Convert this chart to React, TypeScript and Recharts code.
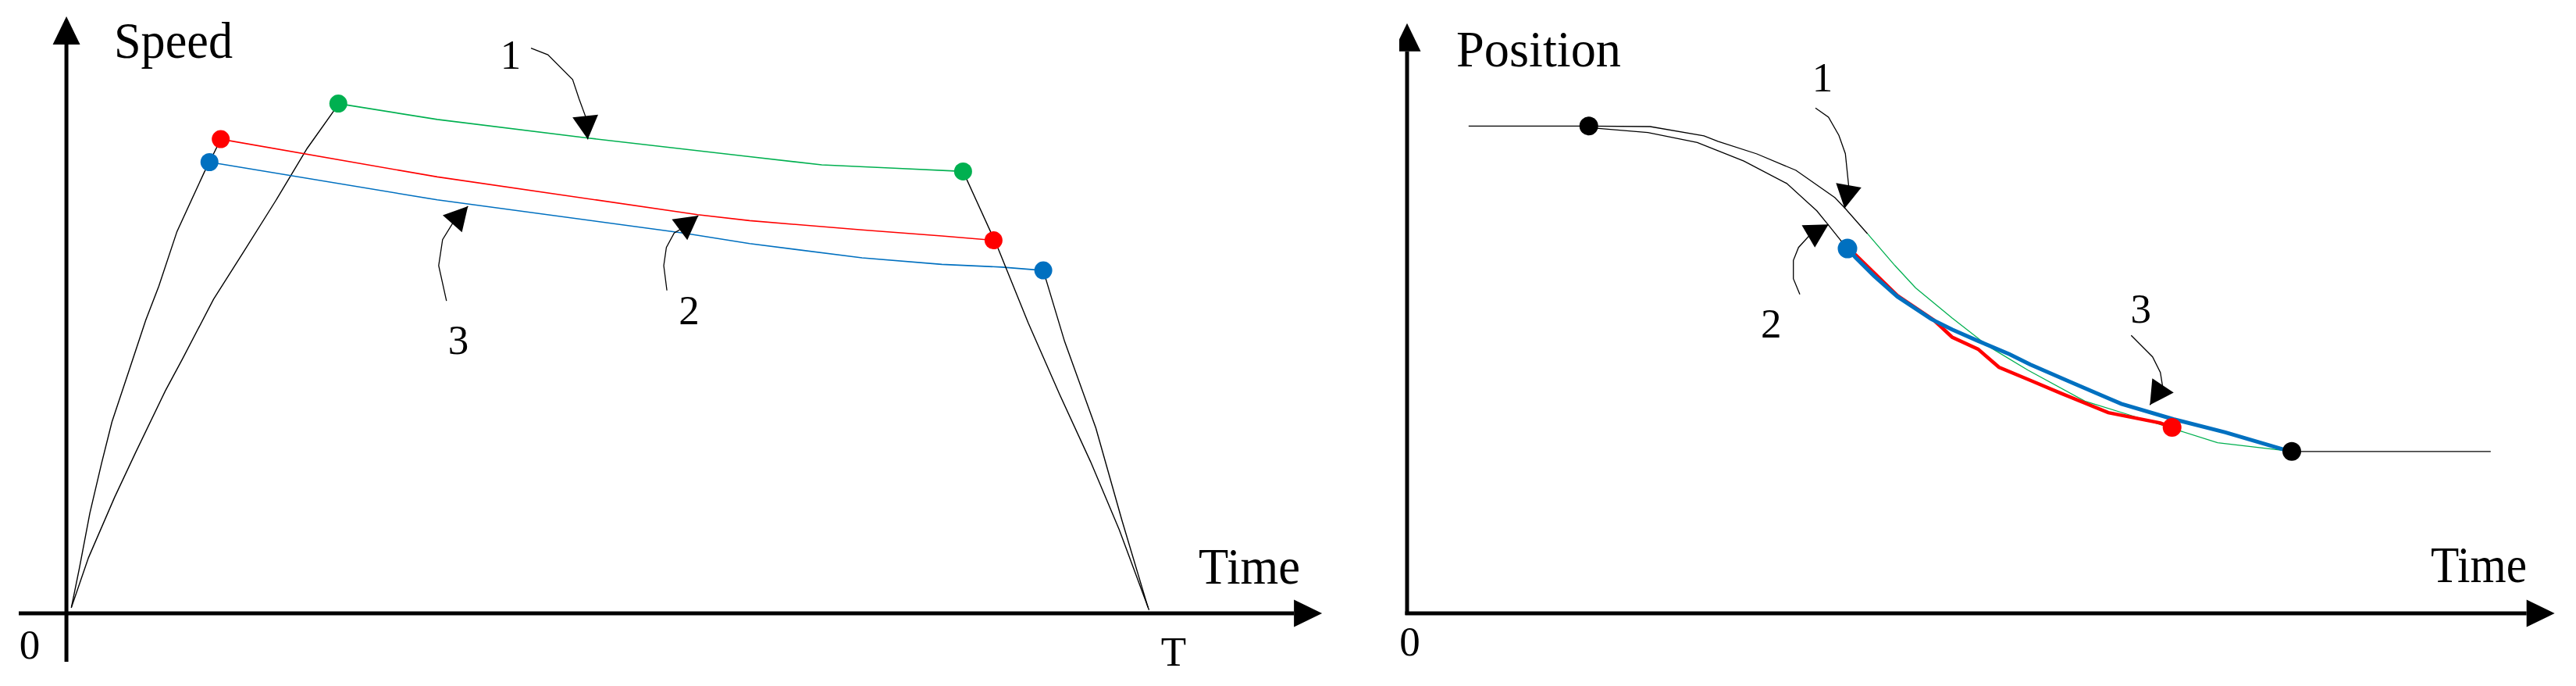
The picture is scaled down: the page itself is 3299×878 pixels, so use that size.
import React from "react"
import { ComposedChart, Line, Scatter, XAxis, YAxis, ReferenceDot } from "recharts"

const GREEN = "#00B050"
const RED = "#FF0000"
const BLUE = "#0070C0"
const FONT = "'Liberation Serif', 'Times New Roman', serif"

type Pt = { x: number; y: number }
const toPts = (rows: number[][]): Pt[] => rows.map(([x, y]) => ({ x, y }))

// ---- Speed chart (left): x in % of T, y in speed units
const speedGreen = toPts([[25.09, 93.2], [34.22, 90.3], [48.15, 86.9], [63.04, 83.5], [69.7, 82.0], [76.37, 81.4], [82.74, 80.8]])
const speedRed = toPts([[14.24, 86.7], [34.22, 79.8], [58.24, 72.9], [63.04, 71.8], [73.42, 70.1], [80.78, 69.0], [85.55, 68.2]])
const speedBlue = toPts([[13.2, 82.5], [34.22, 75.6], [57.04, 69.5], [63.04, 67.6], [73.42, 65.0], [80.78, 63.8], [86.3, 63.3], [90.14, 62.7]])

const rampUpBlue = toPts([[0.45, 1.0], [1.2, 8.3], [2.16, 18.3], [3.24, 27.4], [4.2, 35.0], [5.88, 45.0], [7.32, 53.6], [8.52, 59.8], [10.2, 69.8], [12.73, 80.7], [13.2, 82.5], [14.24, 86.7]])
const rampUpGreen = toPts([[0.48, 1.2], [2.04, 10.2], [4.44, 21.2], [6.36, 29.3], [9.13, 40.7], [10.68, 46.4], [13.57, 57.4], [16.45, 66.4], [19.33, 75.5], [22.21, 85.0], [24.61, 91.7], [25.09, 93.2]])
const rampDownGreen = toPts([[82.74, 80.8], [85.87, 67.2], [88.75, 53.1], [91.63, 40.1], [94.51, 27.7], [97.15, 15.3], [99.9, 0.6]])
const rampDownBlue = toPts([[90.14, 62.7], [92.11, 49.7], [94.99, 33.9], [97.4, 17.0], [99.8, 1.1]])

const speedGreenDots = toPts([[25.09, 93.2], [82.74, 80.8]])
const speedRedDots = toPts([[14.24, 86.7], [85.55, 68.2]])
const speedBlueDots = toPts([[13.2, 82.5], [90.14, 62.7]])

const speedLeader1 = toPts([[42.87, 103.33], [44.43, 102.14], [46.71, 97.61], [47.31, 94.04], [47.88, 90.96], [48.11, 86.67]])
const speedLeader2 = toPts([[55.41, 59.04], [55.12, 63.57], [55.36, 66.9], [56.08, 69.53], [56.56, 70.11], [58.31, 72.71]])
const speedLeader3 = toPts([[35.07, 57.14], [34.35, 63.57], [34.71, 68.33], [35.61, 71.23], [37.05, 74.43]])

const speedXAxis = toPts([[-4.4, 0], [113.27, 0]])
const speedYAxis = toPts([[0, -8.86], [0, 104]])

// ---- Position chart (right)
const posFlatStart = toPts([[7.88, 89.1], [23.27, 89.1]])
const posFlatEnd = toPts([[113.3, 29.6], [138.78, 29.6]])
const posUpperBlack = toPts([[23.27, 89.1], [31.13, 89.0], [38.02, 87.3], [39.8, 86.3], [44.8, 84.0], [49.8, 81.0], [54.8, 76.0], [56.13, 74.0], [58.97, 69.4]])
const posGreen = toPts([[58.97, 69.4], [62.47, 63.6], [65.13, 59.5], [69.8, 54.0], [74.47, 48.8], [79.47, 44.5], [86.8, 38.8], [93.13, 36.0], [96.47, 34.5], [103.8, 31.2], [112.13, 29.8], [113.3, 29.6]])
const posLowerBlack = toPts([[23.27, 89.1], [24.24, 88.7], [30.84, 87.9], [37.16, 86.1], [39.8, 84.6], [43.13, 82.7], [48.63, 78.6], [52.47, 73.6], [54.13, 70.7], [55.47, 68.3], [56.4, 66.7]])
const posBlue = toPts([[56.4, 66.7], [57.47, 65.0], [59.8, 61.7], [62.8, 57.9], [67.13, 53.8], [69.8, 51.9], [73.13, 49.8], [77.13, 47.4], [79.8, 45.5], [84.8, 42.4], [91.47, 38.3], [98.13, 35.5], [104.8, 33.1], [113.13, 29.6]])
const posRed = toPts([[56.4, 66.7], [57.47, 65.5], [62.8, 58.1], [67.47, 53.6], [69.8, 50.5], [73.13, 48.3], [75.8, 45.0], [79.8, 42.6], [83.8, 40.2], [89.8, 36.7], [96.47, 34.8], [97.97, 34.0]])

const posBlackDots = toPts([[23.27, 89.1], [113.3, 29.6]])
const posRedDots = toPts([[97.97, 34.0]])
const posBlueDots = toPts([[56.4, 66.7]])

const posLeader1 = toPts([[52.3, 92.39], [53.97, 90.71], [55.3, 87.39], [56.13, 84.04], [56.55, 78.21], [56.03, 74.04]])
const posLeader2 = toPts([[50.3, 58.33], [49.47, 61.19], [49.47, 64.53], [50.13, 66.9], [51.47, 69.0], [53.97, 71.1]])
const posLeader3 = toPts([[92.73, 50.81], [95.47, 46.9], [96.47, 44.04], [96.75, 41.54], [95.13, 38.1]])

const posXAxis = toPts([[-0.25, 0], [143.37, 0]])
const posYAxis = toPts([[0, -0.3], [0, 102.76]])

// triangle at the last point of a line; forward = tip sticks out past the last point
function arrowDot(count: number, len: number, half: number, forward: boolean) {
  let prev: [number, number] = [0, 0]
  return (props: any) => {
    const { cx, cy, index } = props
    if (index < count - 1) {
      prev = [cx, cy]
      return <g key={`a${index}`} />
    }
    const list = props.points
    const [px, py] = list && list.length > 1 ? [list[list.length - 2].x, list[list.length - 2].y] : prev
    const d = Math.hypot(cx - px, cy - py) || 1
    const ux = (cx - px) / d
    const uy = (cy - py) / d
    const tip = forward ? [cx + ux * len, cy + uy * len] : [cx, cy]
    const base = forward ? [cx, cy] : [cx - ux * len, cy - uy * len]
    const nx = -uy * half
    const ny = ux * half
    const p = `${tip[0]},${tip[1]} ${base[0] + nx},${base[1] + ny} ${base[0] - nx},${base[1] - ny}`
    return <polygon key={`a${index}`} points={p} fill="#000" />
  }
}

const dotShape = (r: number, color: string) => (p: any) => <circle cx={p.cx} cy={p.cy} r={r} fill={color} />

function textAt(key: string, x: number, y: number, text: string, size: number, anchor: "start" | "middle", width?: number) {
  return (
    <ReferenceDot
      key={key}
      x={x}
      y={y}
      ifOverflow="visible"
      shape={(p: any) => (
        <text
          x={p.cx}
          y={p.cy}
          fontFamily={FONT}
          fontSize={size}
          textAnchor={anchor}
          fill="#000"
          textLength={width}
          lengthAdjust={width ? "spacingAndGlyphs" : undefined}
        >
          {text}
        </text>
      )}
    />
  )
}

function thin(key: string, data: Pt[], color: string, width: number) {
  return <Line key={key} data={data} dataKey="y" type="linear" stroke={color} strokeWidth={width} dot={false} isAnimationActive={false} />
}

function leader(key: string, data: Pt[]) {
  return (
    <Line key={key} data={data} dataKey="y" type="linear" stroke="#000" strokeWidth={1.3} dot={arrowDot(data.length, 30, 16.5, false)} isAnimationActive={false} />
  )
}

function axisLine(key: string, data: Pt[]) {
  return (
    <Line key={key} data={data} dataKey="y" type="linear" stroke="#000" strokeWidth={5} dot={arrowDot(data.length, 36, 17.5, true)} isAnimationActive={false} />
  )
}

function SpeedChart() {
  return (
    <ComposedChart width={1700} height={878} margin={{ top: 15, right: 5, bottom: 9, left: 24 }}>
      <XAxis type="number" dataKey="x" domain={[-4.4, 116]} allowDataOverflow hide />
      <YAxis type="number" dataKey="y" domain={[-12, 110]} allowDataOverflow hide />
      {thin("ru1", rampUpBlue, "#000", 1.4)}
      {thin("ru2", rampUpGreen, "#000", 1.4)}
      {thin("g", speedGreen, GREEN, 1.6)}
      {thin("r", speedRed, RED, 1.6)}
      {thin("b", speedBlue, BLUE, 1.6)}
      <Scatter data={speedGreenDots} fill={GREEN} shape={dotShape(11.5, GREEN)} isAnimationActive={false} />
      <Scatter data={speedRedDots} fill={RED} shape={dotShape(11.5, RED)} isAnimationActive={false} />
      <Scatter data={speedBlueDots} fill={BLUE} shape={dotShape(11.5, BLUE)} isAnimationActive={false} />
      {thin("rd1", rampDownGreen, "#000", 1.4)}
      {thin("rd2", rampDownBlue, "#000", 1.4)}
      {leader("l1", speedLeader1)}
      {leader("l2", speedLeader2)}
      {leader("l3", speedLeader3)}
      {axisLine("ax", speedXAxis)}
      {axisLine("ay", speedYAxis)}
      {textAt("t-speed", 4.39, 101.57, "Speed", 66, "start", 152)}
      {textAt("t-time", 104.48, 5.43, "Time", 66, "start", 130)}
      {textAt("t-0", -3.39, -8.29, "0", 53, "middle")}
      {textAt("t-T", 102.17, -9.57, "T", 53, "middle")}
      {textAt("t-1", 40.99, 99.53, "1", 53, "middle")}
      {textAt("t-2", 57.46, 52.86, "2", 53, "middle")}
      {textAt("t-3", 36.17, 47.43, "3", 53, "middle")}
    </ComposedChart>
  )
}

function PositionChart() {
  return (
    <ComposedChart width={1599} height={878} margin={{ top: 15, right: 17, bottom: 9, left: 92 }}>
      <XAxis type="number" dataKey="x" domain={[-1, 148]} allowDataOverflow hide />
      <YAxis type="number" dataKey="y" domain={[-12, 110]} allowDataOverflow hide />
      {thin("fs", posFlatStart, "#000", 1.3)}
      {thin("fe", posFlatEnd, "#000", 1.3)}
      <Scatter data={posBlackDots} fill="#000" shape={dotShape(12, "#000")} isAnimationActive={false} />
      <Scatter data={posRedDots} fill={RED} shape={dotShape(12, RED)} isAnimationActive={false} />
      {thin("ub", posUpperBlack, "#000", 1.3)}
      {thin("lb", posLowerBlack, "#000", 1.3)}
      {thin("g", posGreen, GREEN, 1.3)}
      {thin("r", posRed, RED, 4.5)}
      {thin("b", posBlue, BLUE, 5)}
      <Scatter data={posBlueDots} fill={BLUE} shape={dotShape(12.5, BLUE)} isAnimationActive={false} />
      {leader("l1", posLeader1)}
      {leader("l2", posLeader2)}
      {leader("l3", posLeader3)}
      {axisLine("ax", posXAxis)}
      {axisLine("ay", posYAxis)}
      {textAt("t-pos", 6.3, 100, "Position", 66, "start", 211)}
      {textAt("t-time", 131.1, 5.71, "Time", 66, "start", 123)}
      {textAt("t-0", 0.35, -7.71, "0", 53, "middle")}
      {textAt("t-1", 53.2, 95.47, "1", 53, "middle")}
      {textAt("t-2", 46.63, 50.47, "2", 53, "middle")}
      {textAt("t-3", 93.97, 53.1, "3", 53, "middle")}
    </ComposedChart>
  )
}

export default function App() {
  return (
    <div style={{ position: "relative", width: 3299, height: 878, background: "#fff" }}>
      <style>{"body{margin:0;background:#fff}"}</style>
      <div style={{ position: "absolute", left: 0, top: 0 }}>
        <SpeedChart />
      </div>
      <div style={{ position: "absolute", left: 1700, top: 0 }}>
        <PositionChart />
      </div>
    </div>
  )
}
